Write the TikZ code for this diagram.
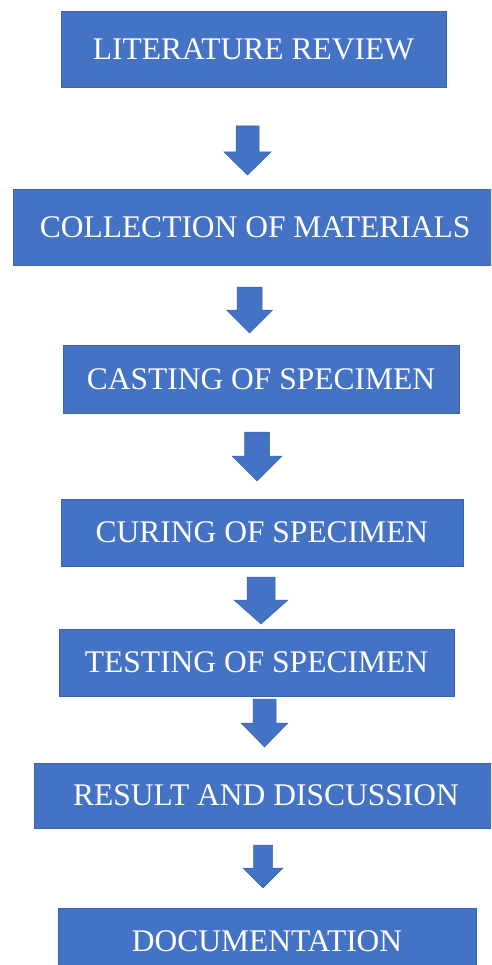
\documentclass[tikz,border=0pt]{standalone}
\usepackage{fontspec}
\setmainfont{Liberation Serif}
\definecolor{boxblue}{HTML}{4472C4}
\definecolor{edgeblue}{HTML}{3A63AE}
\newcommand\flowarrow[6]{%
  \filldraw[flowarrowstyle] (#1-#2,#4) -- (#1+#2,#4) -- (#1+#2,#5) -- (#1+#3,#5) -- (#1,#6) -- (#1-#3,#5) -- (#1-#2,#5) -- cycle;}
\begin{document}
\begin{tikzpicture}[x=1pt,y=-1pt,
  stepbox/.style={rectangle, draw=edgeblue, line width=0.8pt, fill=boxblue, text=white,
    font=\fontsize{31.5}{36}\selectfont, inner sep=0pt, anchor=center},
  flowarrowstyle/.style={fill=boxblue, draw=edgeblue, line width=0.5pt, line join=miter}]
\useasboundingbox (0,0) rectangle (491,965);
\clip (0,0) rectangle (491,965);
\node[stepbox, minimum width=385pt, minimum height=76pt] (lit) at (253.5,49) {LITERATURE REVIEW};
\node[stepbox, minimum width=484pt, minimum height=76pt] (col) at (255,227) {COLLECTION OF MATERIALS};
\node[stepbox, minimum width=396pt, minimum height=68pt] (cast) at (261,379) {CASTING OF SPECIMEN};
\node[stepbox, minimum width=402pt, minimum height=67pt] (cur) at (262,532.5) {CURING OF SPECIMEN};
\node[stepbox, minimum width=395pt, minimum height=67pt] (test) at (256.5,662.5) {TESTING OF SPECIMEN};
\node[stepbox, minimum width=464pt, minimum height=65pt] (res) at (266,795.5) {RESULT AND DISCUSSION};
\node[stepbox, minimum width=418pt, minimum height=67pt] (doc) at (267,941.5) {DOCUMENTATION};
% block arrows between the steps
\flowarrow{247.5}{11.5}{23.5}{126}{152}{175}
\flowarrow{249.5}{12.5}{23}{287}{310}{333}
\flowarrow{257}{12.5}{25}{432}{456}{481}
\flowarrow{261}{14}{27}{577}{600}{624}
\flowarrow{264.5}{11.5}{23.5}{699}{723}{747}
\flowarrow{263}{9.5}{20}{845}{868}{888}
\end{tikzpicture}
\end{document}
